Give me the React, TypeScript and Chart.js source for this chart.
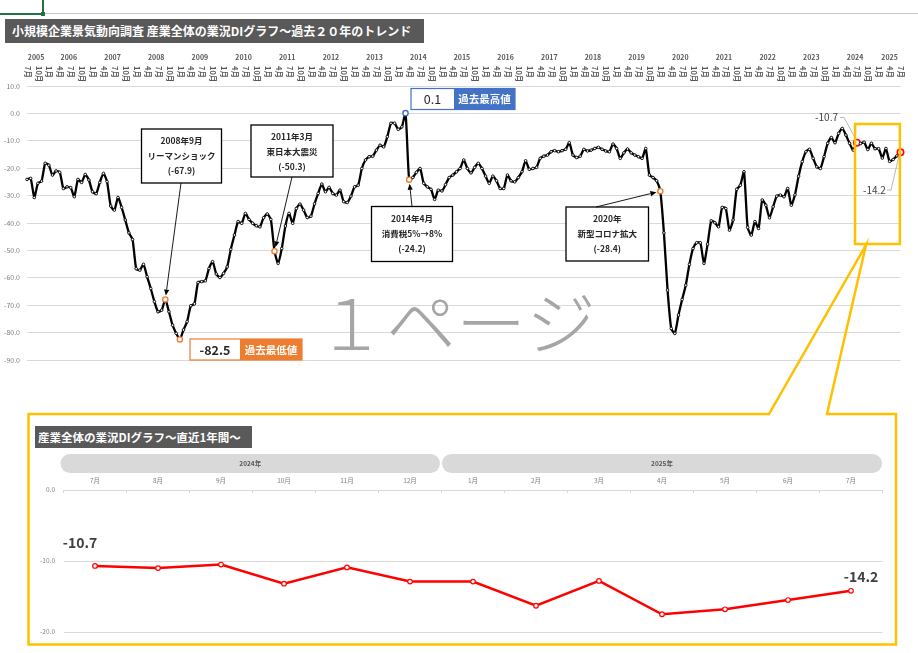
import React, { useEffect, useRef } from "react";
import { Chart, registerables } from "chart.js";

Chart.register(...registerables);

// ---------------- DATA ----------------
const startYear = 2005;
const startMonth = 7;
const yearLabels = ["2005", "2006", "2007", "2008", "2009", "2010", "2011", "2012", "2013", "2014", "2015", "2016", "2017", "2018", "2019", "2020", "2021", "2022", "2023", "2024", "2025"];
const monthNames = ["1月", "2月", "3月", "4月", "5月", "6月", "7月", "8月", "9月", "10月", "11月", "12月"];

// 産業全体 業況DI (2005年7月〜2025年7月, monthly)
const diValues = [
  -24.1, -23.7, -30.7, -25.5, -24.7, -18.2, -18.9, -22.5, -21.0, -21.5, -27.4, -26.8,
  -27.1, -30.4, -24.1, -25.2, -22.3, -24.3, -28.6, -29.3, -25.2, -21.9, -24.9, -33.8,
  -35.3, -30.7, -34.3, -38.9, -43.6, -46.0, -56.7, -57.2, -55.1, -59.6, -63.9, -68.7,
  -72.4, -71.8, -67.9, -72.4, -77.3, -80.3, -82.5, -79.0, -76.0, -70.2, -69.5, -61.7,
  -61.4, -61.1, -56.6, -54.1, -58.6, -59.9, -58.4, -56.0, -49.6, -44.4, -39.5, -40.1,
  -36.5, -38.7, -40.1, -41.0, -41.4, -38.1, -36.7, -38.7, -50.3, -54.7, -49.3, -41.1,
  -36.5, -40.1, -34.7, -33.1, -35.3, -38.0, -37.5, -33.0, -29.2, -25.8, -28.6, -27.0,
  -29.2, -29.8, -28.0, -32.2, -32.5, -30.2, -26.8, -26.2, -20.1, -17.0, -15.8, -15.6,
  -13.4, -11.6, -12.2, -8.5, -3.6, -3.6, -5.8, -4.9, 0.1, -24.2, -23.4, -21.5,
  -20.1, -25.5, -26.8, -27.7, -31.4, -28.0, -28.3, -26.0, -23.4, -22.5, -21.3, -20.1,
  -17.0, -20.1, -21.7, -19.7, -18.2, -20.1, -22.9, -25.5, -22.9, -24.6, -27.4, -27.4,
  -22.5, -24.6, -25.0, -23.4, -21.3, -17.3, -20.4, -20.1, -19.7, -16.4, -15.6, -15.2,
  -14.0, -13.6, -14.0, -13.6, -13.1, -10.7, -15.2, -16.1, -15.6, -13.1, -13.7, -13.4,
  -12.8, -12.4, -13.1, -13.7, -14.0, -11.2, -12.8, -16.4, -14.4, -13.0, -14.4, -15.2,
  -15.8, -16.4, -12.8, -22.5, -23.4, -24.6, -28.4, -43.6, -64.5, -78.5, -80.3, -73.6,
  -67.9, -62.7, -55.1, -49.3, -47.2, -47.2, -54.7, -47.7, -39.2, -39.9, -41.4, -34.3,
  -34.7, -42.6, -38.9, -27.7, -26.2, -21.3, -41.6, -44.4, -39.5, -42.0, -31.6, -33.5,
  -38.1, -34.1, -30.2, -29.8, -30.4, -27.4, -33.5, -29.7, -22.9, -17.6, -14.0, -13.1,
  -16.4, -19.5, -20.1, -15.8, -10.9, -8.8, -10.7, -7.3, -5.5, -7.9, -10.9, -13.4,
  -10.7, -11.0, -10.5, -13.2, -10.9, -12.9, -12.9, -16.3, -12.8, -17.5, -16.8, -15.5,
  -14.2,
];
const mainYTicks = [10, 0, -10, -20, -30, -40, -50, -60, -70, -80, -90];

const eventIndices = [38, 68, 105, 174];
const eventTitles = [
  ["2008年9月", "リーマンショック"],
  ["2011年3月", "東日本大震災"],
  ["2014年4月", "消費税5%→8%"],
  ["2020年", "新型コロナ拡大"],
];
const highLabel = "過去最高値";
const lowLabel = "過去最低値";
const recentStartIndex = 228;

const recentMonths = ["7月", "8月", "9月", "10月", "11月", "12月", "1月", "2月", "3月", "4月", "5月", "6月", "7月"];
const recentYears = ["2024年", "2025年"];
const recentYearSpans = [6, 7];
const recentValues = [-10.7, -11.0, -10.5, -13.2, -10.9, -12.9, -12.9, -16.3, -12.8, -17.5, -16.8, -15.5, -14.2];
const recentYTicks = [0, -10, -20];

const mainTitle = "小規模企業景気動向調査 産業全体の業況DIグラフ～過去２０年のトレンド";
const subTitle = "産業全体の業況DIグラフ～直近1年間～";
const watermark = "１ページ";

// ---------------- derived ----------------
const categories = diValues.map((_, i) => {
  const t = startMonth - 1 + i;
  return `${startYear + Math.floor(t / 12)}/${(t % 12) + 1}`;
});
const monthOf = (i: number) => ((startMonth - 1 + i) % 12) + 1;
const yearOf = (i: number) => startYear + Math.floor((startMonth - 1 + i) / 12);
const maxIndex = diValues.indexOf(Math.max(...diValues));
const minIndex = diValues.indexOf(Math.min(...diValues));
const lastIndex = diValues.length - 1;

const FONT = "'Noto Sans CJK JP', 'Noto Sans', sans-serif";
const ORANGE = "#ED7D31";
const BLUE = "#4472C4";
const YELLOW = "#FFC000";

// ---------------- layout (pixels) ----------------
const eventBoxes = [
  { x: 141.5, y: 129, w: 80, h: 54, fx: 181, fy: 183 },
  { x: 251, y: 125, w: 82, h: 52, fx: 292, fy: 177 },
  { x: 371.5, y: 206.5, w: 81, h: 55, fx: 412, fy: 206.5 },
  { x: 566, y: 207, w: 82.5, h: 54, fx: 596, fy: 207 },
];

function drawArrow(ctx: CanvasRenderingContext2D, x1: number, y1: number, x2: number, y2: number) {
  const a = Math.atan2(y2 - y1, x2 - x1);
  const head = 6;
  const half = 2.6;
  const bx = x2 - Math.cos(a) * head;
  const by = y2 - Math.sin(a) * head;
  ctx.beginPath();
  ctx.moveTo(x1, y1);
  ctx.lineTo(bx, by);
  ctx.stroke();
  ctx.beginPath();
  ctx.moveTo(x2, y2);
  ctx.lineTo(bx + Math.sin(a) * half, by - Math.cos(a) * half);
  ctx.lineTo(bx - Math.sin(a) * half, by + Math.cos(a) * half);
  ctx.closePath();
  ctx.fill();
}

function roundRectPath(ctx: CanvasRenderingContext2D, x: number, y: number, w: number, h: number, r: number) {
  ctx.beginPath();
  ctx.moveTo(x + r, y);
  ctx.lineTo(x + w - r, y);
  ctx.arc(x + w - r, y + r, r, -Math.PI / 2, 0);
  ctx.lineTo(x + w, y + h - r);
  ctx.arc(x + w - r, y + h - r, r, 0, Math.PI / 2);
  ctx.lineTo(x + r, y + h);
  ctx.arc(x + r, y + h - r, r, Math.PI / 2, Math.PI);
  ctx.lineTo(x, y + r);
  ctx.arc(x + r, y + r, r, Math.PI, Math.PI * 1.5);
  ctx.closePath();
}

const mainPlugin = {
  id: "mainDecor",
  beforeDatasetsDraw(chart: any) {
    const ctx: CanvasRenderingContext2D = chart.ctx;
    ctx.save();
    // watermark
    ctx.font = `200 70px ${FONT}`;
    ctx.fillStyle = "#a6a6a6";
    ctx.textAlign = "left";
    ctx.textBaseline = "middle";
    ctx.fillText(watermark, 316, 323);
    ctx.restore();
  },
  afterDraw(chart: any) {
    const ctx: CanvasRenderingContext2D = chart.ctx;
    const xs = chart.scales.x;
    const ys = chart.scales.y;
    const px = (i: number) => xs.getPixelForValue(i);
    const py = (v: number) => ys.getPixelForValue(v);
    ctx.save();

    // y tick labels
    ctx.font = `7px ${FONT}`;
    ctx.fillStyle = "#7f7f7f";
    ctx.textAlign = "right";
    ctx.textBaseline = "middle";
    mainYTicks.forEach((v) => ctx.fillText(v.toFixed(1), 20, py(v)));

    // year labels
    ctx.font = `bold 7px ${FONT}`;
    ctx.fillStyle = "#595959";
    ctx.textAlign = "center";
    yearLabels.forEach((yl) => {
      const idx = categories.map((_, i) => i).filter((i) => yearOf(i) === Number(yl));
      if (!idx.length) return;
      const cx = (px(idx[0]) + px(idx[idx.length - 1])) / 2;
      ctx.fillText(yl, cx, 57);
    });

    // month labels (vertical)
    ctx.font = `bold 7.5px ${FONT}`;
    ctx.textAlign = "left";
    categories.forEach((_, i) => {
      const m = monthOf(i);
      if ((m - 1) % 3 !== 0) return;
      ctx.save();
      ctx.translate(px(i) + 0.5, 66);
      ctx.rotate(Math.PI / 2);
      ctx.fillText(monthNames[m - 1], 0, 0);
      ctx.restore();
    });

    // event boxes
    eventIndices.forEach((ei, k) => {
      const b = eventBoxes[k];
      ctx.fillStyle = "#ffffff";
      ctx.fillRect(b.x, b.y, b.w, b.h);
      ctx.strokeStyle = "#000000";
      ctx.lineWidth = 1.3;
      ctx.strokeRect(b.x, b.y, b.w, b.h);
      ctx.fillStyle = "#262626";
      ctx.font = `bold 8.5px ${FONT}`;
      ctx.textAlign = "center";
      ctx.textBaseline = "middle";
      const lines = [...eventTitles[k], `(${diValues[ei].toFixed(1)})`];
      lines.forEach((t, j) => ctx.fillText(t, b.x + b.w / 2, b.y + 12 + j * 15));
      // arrow
      const tx = px(ei);
      const ty = py(diValues[ei]);
      const a = Math.atan2(ty - b.fy, tx - b.fx);
      ctx.strokeStyle = "#000";
      ctx.fillStyle = "#000";
      ctx.lineWidth = 0.9;
      drawArrow(ctx, b.fx, b.fy, tx - Math.cos(a) * 4, ty - Math.sin(a) * 4);
    });

    // max / min value boxes
    const drawValueBox = (x: number, y: number, w1: number, w2: number, h: number, color: string, val: string, lab: string, bold: boolean) => {
      ctx.fillStyle = "#fff";
      ctx.fillRect(x, y, w1, h);
      ctx.strokeStyle = color;
      ctx.lineWidth = 1.2;
      ctx.strokeRect(x, y, w1 + w2, h);
      ctx.fillStyle = color;
      ctx.fillRect(x + w1, y, w2, h);
      ctx.fillStyle = "#262626";
      ctx.font = `${bold ? "bold " : ""}12.5px ${FONT}`;
      ctx.textAlign = "center";
      ctx.textBaseline = "middle";
      ctx.fillText(val, x + w1 / 2, y + h / 2 + 0.5);
      ctx.fillStyle = "#fff";
      ctx.font = `bold 10.5px ${FONT}`;
      ctx.fillText(lab, x + w1 + w2 / 2, y + h / 2 + 0.5);
    };
    drawValueBox(411, 88.5, 43, 61, 21, BLUE, diValues[maxIndex].toFixed(1), highLabel, false);
    drawValueBox(190, 339, 50, 62, 21, ORANGE, diValues[minIndex].toFixed(1), lowLabel, true);

    // leader labels for recent start / latest
    const sx = px(recentStartIndex);
    const sy = py(diValues[recentStartIndex]);
    const lx = px(lastIndex);
    const ly = py(diValues[lastIndex]);
    ctx.strokeStyle = "#a6a6a6";
    ctx.lineWidth = 0.8;
    ctx.beginPath();
    ctx.moveTo(840, 117.5);
    ctx.lineTo(844, 117.5);
    ctx.lineTo(sx - 1, sy - 3.5);
    ctx.stroke();
    ctx.beginPath();
    ctx.moveTo(887, 190);
    ctx.lineTo(891, 190);
    ctx.lineTo(lx - 1.5, ly + 3.5);
    ctx.stroke();
    ctx.fillStyle = "#404040";
    ctx.font = `10px ${FONT}`;
    ctx.textBaseline = "middle";
    ctx.textAlign = "right";
    ctx.fillText(diValues[recentStartIndex].toFixed(1), 838, 117.5);
    ctx.textAlign = "left";
    ctx.fillText(diValues[lastIndex].toFixed(1), 863, 190);

    // yellow rectangle + callout
    ctx.strokeStyle = YELLOW;
    ctx.lineWidth = 2.5;
    ctx.strokeRect(sx - 1.8, 124, lx - sx + 1.2, 120);
    ctx.beginPath();
    ctx.moveTo(28.5, 414);
    ctx.lineTo(769, 414);
    ctx.lineTo(866, 245);
    ctx.lineTo(827, 414);
    ctx.lineTo(896, 414);
    ctx.lineTo(896, 644.5);
    ctx.lineTo(28.5, 644.5);
    ctx.closePath();
    ctx.stroke();

    ctx.restore();
  },
};

const recentPlugin = {
  id: "recentDecor",
  afterDraw(chart: any) {
    const ctx: CanvasRenderingContext2D = chart.ctx;
    const xs = chart.scales.x;
    const ys = chart.scales.y;
    const px = (i: number) => xs.getPixelForValue(i);
    const py = (v: number) => ys.getPixelForValue(v);
    const step = px(1) - px(0);
    ctx.save();

    // year pills
    let start = 0;
    recentYears.forEach((yl, k) => {
      const end = start + recentYearSpans[k] - 1;
      const x0 = px(start) - step / 2 - (k === 0 ? 3 : -0.5);
      const x1 = px(end) + step / 2 - (k === 0 ? 1.5 : 0.5);
      ctx.fillStyle = "#d9d9d9";
      roundRectPath(ctx, x0, 454, x1 - x0, 19, 9.5);
      ctx.fill();
      ctx.fillStyle = "#595959";
      ctx.font = `bold 6.5px ${FONT}`;
      ctx.textAlign = "center";
      ctx.textBaseline = "middle";
      ctx.fillText(yl, (x0 + x1) / 2, 464);
      start = end + 1;
    });

    // month labels
    ctx.fillStyle = "#7f7f7f";
    ctx.font = `6.5px ${FONT}`;
    ctx.textAlign = "center";
    ctx.textBaseline = "middle";
    recentMonths.forEach((m, i) => ctx.fillText(m, px(i), 481));

    // y labels
    ctx.textAlign = "right";
    recentYTicks.forEach((v) => ctx.fillText(v.toFixed(1), 55, py(v)));

    // tick marks under the top axis line
    ctx.strokeStyle = "#d9d9d9";
    ctx.lineWidth = 1;
    for (let i = 0; i <= recentMonths.length; i++) {
      const x = px(0) - step / 2 + i * step;
      ctx.beginPath();
      ctx.moveTo(x, py(0));
      ctx.lineTo(x, py(0) + 3);
      ctx.stroke();
    }

    // data labels
    ctx.fillStyle = "#404040";
    ctx.font = `bold 14px ${FONT}`;
    ctx.textAlign = "center";
    const n = recentValues.length - 1;
    ctx.fillText(recentValues[0].toFixed(1), px(0) - 15, py(recentValues[0]) - 23);
    ctx.fillText(recentValues[n].toFixed(1), px(n) + 10, py(recentValues[n]) - 14);

    ctx.restore();
  },
};

export default function App() {
  const mainRef = useRef<HTMLCanvasElement | null>(null);
  const recentRef = useRef<HTMLCanvasElement | null>(null);

  useEffect(() => {
    if (!mainRef.current || !recentRef.current) return;

    const specialColor = (i: number) => {
      if (i === recentStartIndex || i === lastIndex) return "#FF0000";
      if (i === maxIndex) return BLUE;
      if (i === minIndex || eventIndices.includes(i)) return ORANGE;
      return "#000000";
    };
    const isRed = (i: number) => i === recentStartIndex || i === lastIndex;
    const isSpecial = (i: number) => i === maxIndex || i === minIndex || eventIndices.includes(i);

    const main = new Chart(mainRef.current, {
      type: "line",
      data: {
        labels: categories,
        datasets: [
          {
            data: diValues,
            borderColor: "#000000",
            borderWidth: 2.3,
            tension: 0.2,
            clip: false as any,
            pointRadius: diValues.map((_, i) => (isRed(i) ? 3.2 : isSpecial(i) ? 2.6 : 1.3)),
            pointBorderWidth: diValues.map((_, i) => (isRed(i) ? 1.6 : isSpecial(i) ? 1.4 : 0.9)),
            pointBackgroundColor: "#ffffff",
            pointBorderColor: diValues.map((_, i) => specialColor(i)),
          },
        ],
      },
      options: {
        responsive: false,
        animation: false,
        events: [],
        layout: { padding: { left: 27, right: 17.5, top: 86, bottom: 293 }, autoPadding: false },
        plugins: { legend: { display: false }, tooltip: { enabled: false } },
        scales: {
          x: { type: "category", display: false, offset: false },
          y: {
            min: -90,
            max: 10,
            ticks: { display: false, stepSize: 10 },
            grid: { color: "#d9d9d9", drawTicks: false, lineWidth: 1 },
            border: { display: false },
            afterFit: (s: any) => {
              s.width = 0;
            },
          },
        },
      },
      plugins: [mainPlugin],
    });

    const recent = new Chart(recentRef.current, {
      type: "line",
      data: {
        labels: recentMonths.map((m, i) => `${i}-${m}`),
        datasets: [
          {
            data: recentValues,
            borderColor: "#FF0000",
            borderWidth: 2.5,
            tension: 0,
            clip: false as any,
            pointRadius: 2.3,
            pointBorderWidth: 1.2,
            pointBackgroundColor: "#ffffff",
            pointBorderColor: "#FF0000",
          },
        ],
      },
      options: {
        responsive: false,
        animation: false,
        events: [],
        layout: { padding: { left: 63.5, right: 35.5, top: 490, bottom: 21 }, autoPadding: false },
        plugins: { legend: { display: false }, tooltip: { enabled: false } },
        scales: {
          x: { type: "category", display: false, offset: true },
          y: {
            min: -20,
            max: 0,
            ticks: { display: false, stepSize: 10 },
            grid: { color: "#d9d9d9", drawTicks: false, lineWidth: 1 },
            border: { display: false },
            afterFit: (s: any) => {
              s.width = 0;
            },
          },
        },
      },
      plugins: [recentPlugin],
    });

    return () => {
      main.destroy();
      recent.destroy();
    };
  }, []);

  const canvasStyle: React.CSSProperties = { position: "absolute", left: 0, top: 0, width: 918, height: 653 };

  return (
    <div style={{ position: "fixed", left: 0, top: 0, width: 918, height: 653, background: "#ffffff", overflow: "hidden", fontFamily: FONT }}>
      {/* spreadsheet strip */}
      <div style={{ position: "absolute", left: 0, top: 13, width: 918, height: 1, background: "#c8c8c8" }} />
      <div style={{ position: "absolute", left: 0, top: 12.5, width: 42, height: 2, background: "#217346" }} />
      <div style={{ position: "absolute", left: 41.5, top: 0, width: 2, height: 12, background: "#217346" }} />
      <div style={{ position: "absolute", left: 40.5, top: 11.5, width: 4, height: 4, background: "#217346" }} />

      <canvas ref={mainRef} width={918} height={653} style={canvasStyle} />
      <canvas ref={recentRef} width={918} height={653} style={canvasStyle} />

      <div
        style={{
          position: "absolute",
          left: 5,
          top: 19,
          width: 419,
          height: 24,
          background: "#595959",
          color: "#ffffff",
          fontWeight: "bold",
          fontSize: 12,
          lineHeight: "24px",
          paddingLeft: 7,
          boxSizing: "border-box",
          whiteSpace: "nowrap",
        }}
      >
        {mainTitle}
      </div>
      <div
        style={{
          position: "absolute",
          left: 35,
          top: 426,
          width: 217,
          height: 22,
          background: "#595959",
          color: "#ffffff",
          fontWeight: "bold",
          fontSize: 11.5,
          lineHeight: "22px",
          paddingLeft: 3,
          boxSizing: "border-box",
          whiteSpace: "nowrap",
        }}
      >
        {subTitle}
      </div>
    </div>
  );
}
